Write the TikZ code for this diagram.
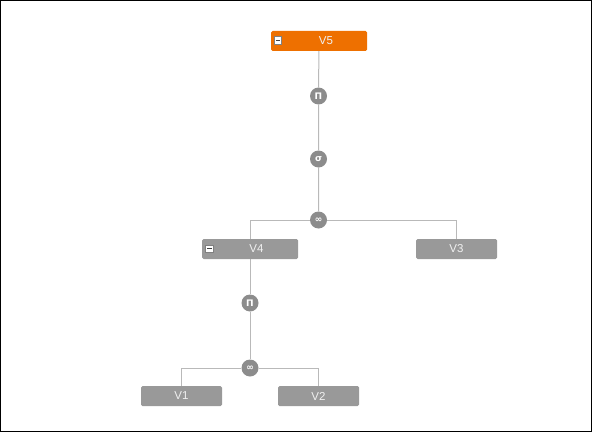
\documentclass[tikz,border=0pt]{standalone}
\usepackage{fontspec}
\setmainfont{Liberation Sans}
\newfontfamily\symfont{DejaVu Sans}
\usetikzlibrary{backgrounds}
\definecolor{boxorange}{RGB}{238,112,0}
\definecolor{boxgray}{RGB}{153,153,153}
\definecolor{opgray}{RGB}{140,140,140}
\definecolor{linegray}{RGB}{185,185,185}
\definecolor{txtwhite}{RGB}{240,240,240}
\tikzset{
  relbox/.style={draw=none, rounded corners=1.5pt, minimum height=20pt, inner sep=0pt, anchor=center},
  wide/.style={minimum width=96pt},
  narrow/.style={minimum width=81pt},
  lbl/.style={font=\fontsize{11.5}{12}\selectfont, text=txtwhite, inner sep=0pt, anchor=center},
  opnode/.style={circle, fill=opgray, minimum size=17pt, inner sep=0pt, text=white, font=\symfont\bfseries\fontsize{9}{9}\selectfont},
  minusicon/.style={draw=gray, fill=white, minimum size=7.5pt, inner sep=0pt, line width=0.6pt,
    path picture={\draw[black!75, line width=1.2pt] ([xshift=1.6pt]path picture bounding box.west) -- ([xshift=-1.6pt]path picture bounding box.east);}},
  conn/.style={draw=linegray, line width=1pt}
}
\begin{document}
\begin{tikzpicture}[x=1pt,y=-1pt]
\useasboundingbox (0,0) rectangle (593,433);
\draw[black, line width=1.2pt] (0.6,0.6) rectangle (591.4,431.4);
% relation boxes
\node[relbox, wide, fill=boxorange] (v5) at (319,41) {};
\node[minusicon] (v5m) at (278,40.5) {};
\node[lbl] (v5l) at (326,41) {V5};
\node[relbox, wide, fill=boxgray] (v4) at (250,249) {};
\node[minusicon] (v4m) at (209.5,248.7) {};
\node[lbl] (v4l) at (256.5,249) {V4};
\node[relbox, narrow, fill=boxgray] (v3) at (456.5,249) {};
\node[lbl] (v3l) at (456.5,249) {V3};
\node[relbox, narrow, fill=boxgray] (v1) at (181.5,396) {};
\node[lbl] (v1l) at (181.5,396) {V1};
\node[relbox, narrow, fill=boxgray] (v2) at (318.5,396) {};
\node[lbl] (v2l) at (318.5,396) {V2};
% operators
\node[opnode] (p1) at (318.5,96) {Π};
\node[opnode] (s1) at (318.5,159) {σ};
\node[opnode] (j1) at (318.5,220) {∞};
\node[opnode] (p2) at (250,303) {Π};
\node[opnode] (j2) at (250,368) {∞};
\begin{scope}[on background layer]
\draw[conn] (v5) -- (p1) -- (s1) -- (j1);
\draw[conn] (j1) -| (v4);
\draw[conn] (j1) -| (v3);
\draw[conn] (v4) -- (p2) -- (j2);
\draw[conn] (j2) -| (v1);
\draw[conn] (j2) -| (v2);
\end{scope}
\end{tikzpicture}
\end{document}
